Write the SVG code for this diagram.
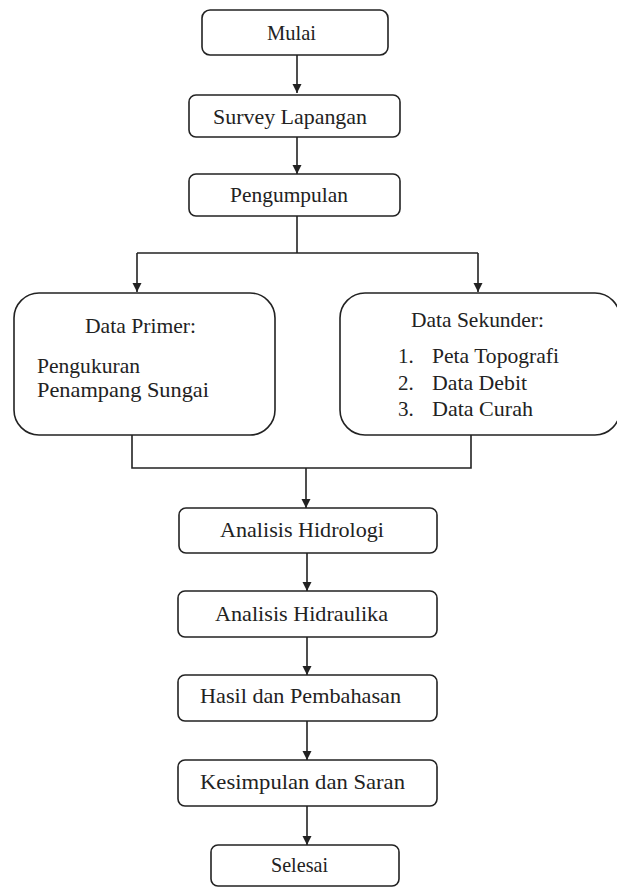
<svg xmlns="http://www.w3.org/2000/svg" width="617" height="887" viewBox="0 0 617 887" xml:space="preserve">
<defs>
<style>
.box{fill:#fff;stroke:#222;stroke-width:1.6}
.t{font-family:'Liberation Serif',Tinos,'Times New Roman',serif;font-size:21px;fill:#222}
.ln{fill:none;stroke:#222;stroke-width:1.6}
</style>
<marker id="ah" markerWidth="10" markerHeight="10" refX="9" refY="5" orient="auto" markerUnits="userSpaceOnUse">
<path d="M0,0.5 L9,5 L0,9.5 Z" fill="#222"/>
</marker>
</defs>
<rect width="617" height="887" fill="#fff"/>
<g id="connectors">
<line class="ln" x1="297" y1="55" x2="297" y2="93" marker-end="url(#ah)"/>
<line class="ln" x1="297" y1="137" x2="297" y2="174" marker-end="url(#ah)"/>
<polyline class="ln" points="297,216 297,253"/>
<polyline class="ln" points="137,253 478,253"/>
<line class="ln" x1="137" y1="253" x2="137" y2="292" marker-end="url(#ah)"/>
<line class="ln" x1="478" y1="253" x2="478" y2="292" marker-end="url(#ah)"/>
<polyline class="ln" points="132,435 132,468 471,468 471,435"/>
<line class="ln" x1="306" y1="468" x2="306" y2="508" marker-end="url(#ah)"/>
<line class="ln" x1="307" y1="553" x2="307" y2="591" marker-end="url(#ah)"/>
<line class="ln" x1="307" y1="637" x2="307" y2="675" marker-end="url(#ah)"/>
<line class="ln" x1="307" y1="721" x2="307" y2="760" marker-end="url(#ah)"/>
<line class="ln" x1="307" y1="806" x2="307" y2="845" marker-end="url(#ah)"/>
</g>
<g id="mulai">
<rect class="box" x="202" y="10" width="186" height="45" rx="8"/>
<text class="t" x="267" y="40" textLength="49" lengthAdjust="spacingAndGlyphs">Mulai</text>
</g>
<g id="survey">
<rect class="box" x="189" y="95" width="211" height="42" rx="7"/>
<text class="t" x="213" y="124" textLength="154" lengthAdjust="spacingAndGlyphs">Survey  Lapangan</text>
</g>
<g id="pengumpulan">
<rect class="box" x="189" y="174" width="211" height="42" rx="7"/>
<text class="t" x="230" y="202" textLength="118" lengthAdjust="spacingAndGlyphs">Pengumpulan</text>
</g>
<g id="data-primer">
<rect class="box" x="14" y="293" width="261" height="142" rx="25"/>
<text class="t" x="85" y="333" textLength="111" lengthAdjust="spacingAndGlyphs">Data Primer:</text>
<text class="t" x="37" y="373" textLength="103" lengthAdjust="spacingAndGlyphs">Pengukuran</text>
<text class="t" x="37" y="397" textLength="172" lengthAdjust="spacingAndGlyphs">Penampang  Sungai</text>
</g>
<g id="data-sekunder">
<rect class="box" x="340" y="293" width="280" height="142" rx="25"/>
<text class="t" x="411" y="327" textLength="133" lengthAdjust="spacingAndGlyphs">Data Sekunder:</text>
<text class="t" x="398" y="363">1.</text>
<text class="t" x="432" y="363" textLength="127" lengthAdjust="spacingAndGlyphs">Peta Topografi</text>
<text class="t" x="398" y="390">2.</text>
<text class="t" x="432" y="390" textLength="95" lengthAdjust="spacingAndGlyphs">Data Debit</text>
<text class="t" x="398" y="416">3.</text>
<text class="t" x="432" y="416" textLength="101" lengthAdjust="spacingAndGlyphs">Data Curah</text>
</g>
<g id="analisis-hidrologi">
<rect class="box" x="179" y="508" width="258" height="45" rx="7"/>
<text class="t" x="220" y="537" textLength="164" lengthAdjust="spacingAndGlyphs">Analisis  Hidrologi</text>
</g>
<g id="analisis-hidraulika">
<rect class="box" x="178" y="591" width="259" height="46" rx="7"/>
<text class="t" x="215" y="621" textLength="173" lengthAdjust="spacingAndGlyphs">Analisis  Hidraulika</text>
</g>
<g id="hasil">
<rect class="box" x="178" y="675" width="259" height="46" rx="7"/>
<text class="t" x="200" y="703" textLength="201" lengthAdjust="spacingAndGlyphs">Hasil  dan Pembahasan</text>
</g>
<g id="kesimpulan">
<rect class="box" x="178" y="760" width="259" height="46" rx="7"/>
<text class="t" x="200" y="789" textLength="205" lengthAdjust="spacingAndGlyphs">Kesimpulan   dan Saran</text>
</g>
<g id="selesai">
<rect class="box" x="211" y="845" width="188" height="41" rx="7"/>
<text class="t" x="271" y="872" textLength="57" lengthAdjust="spacingAndGlyphs">Selesai</text>
</g>
</svg>
